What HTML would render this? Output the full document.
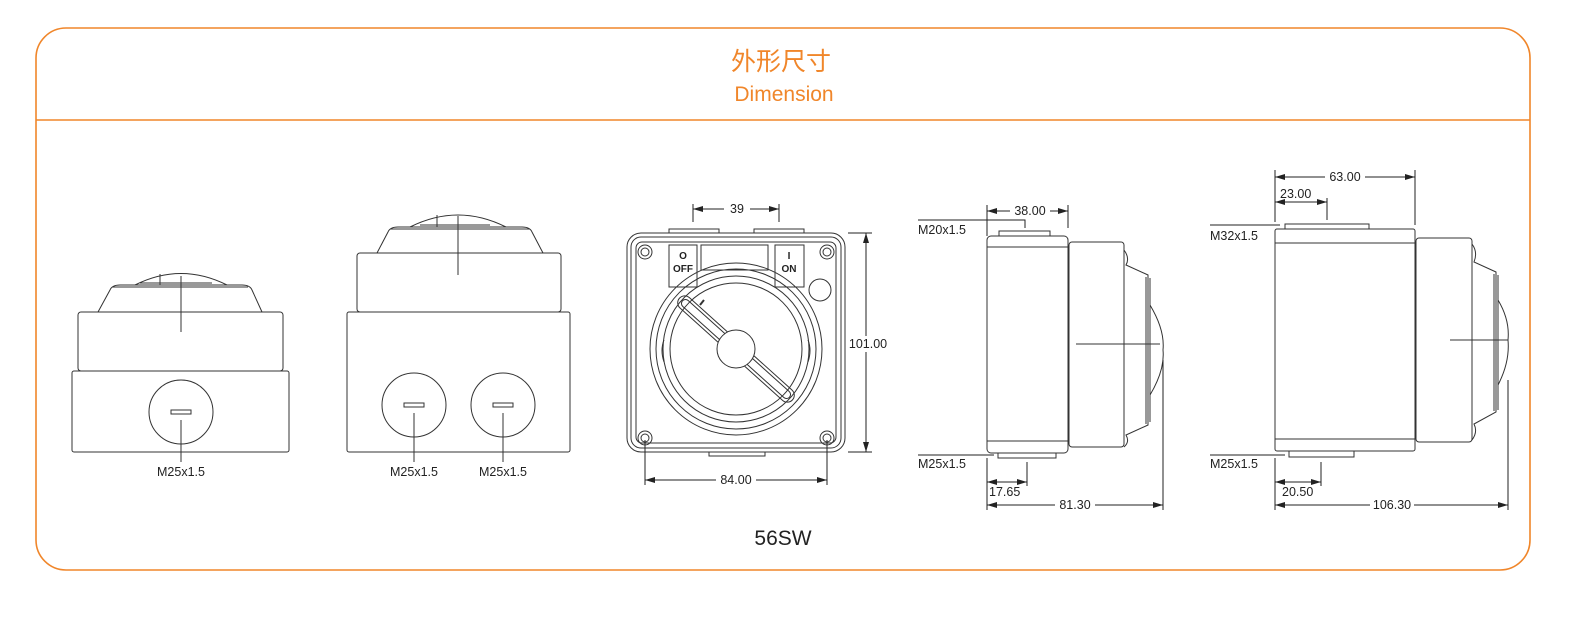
<!DOCTYPE html>
<html><head><meta charset="utf-8"><style>
html,body{margin:0;padding:0;background:#fff;}
svg{display:block;}
text{font-family:"Liberation Sans","Noto Sans CJK SC",sans-serif;fill:#222;}
</style></head><body>
<svg width="1589" height="621" viewBox="0 0 1589 621" xmlns="http://www.w3.org/2000/svg">
<defs>
<marker id="a" viewBox="0 0 10 6" refX="10" refY="3" markerWidth="10" markerHeight="6" orient="auto-start-reverse" markerUnits="userSpaceOnUse"><path d="M0,0L10,3L0,6Z" fill="#222"/></marker>
</defs>
<rect x="36" y="28" width="1494" height="542" rx="30" fill="none" stroke="#f0862a" stroke-width="1.6"/>
<line x1="36" y1="120" x2="1530" y2="120" stroke="#f0862a" stroke-width="1.6"/>
<text x="781" y="70" text-anchor="middle" font-size="25" style="fill:#f0862a">外形尺寸</text>
<text x="784" y="101" text-anchor="middle" font-size="21" style="fill:#f0862a">Dimension</text>
<text x="783" y="545" text-anchor="middle" font-size="21">56SW</text>

<g fill="none" stroke="#333" stroke-width="1">
<!-- View 1 -->
<rect x="72" y="371" width="217" height="81" rx="2"/>
<rect x="78" y="312" width="205" height="59" rx="3"/>
<path d="M98,312 L110,290 Q112,285 120,285 L242,285 Q250,285 252,290 L262,312"/>
<path d="M112,287 L248,287"/>
<path d="M135,285 Q181,262 227,285"/>
<path d="M160,274 L160,285 M140,283 L212,283"/>
<line x1="181" y1="276" x2="181" y2="332"/>
<circle cx="181" cy="412" r="32"/>
<rect x="171" y="410" width="20" height="4"/>
<line x1="181" y1="420" x2="181" y2="462"/>
<!-- View 2 -->
<rect x="347" y="312" width="223" height="140" rx="2"/>
<rect x="357" y="253" width="204" height="59" rx="3"/>
<path d="M377,253 L388,232 Q390,227 398,227 L522,227 Q530,227 532,232 L543,253"/>
<path d="M390,229 L530,229"/>
<path d="M410,227 Q458,203 506,227"/>
<path d="M437,215 L437,227 M420,225 L490,225"/>
<line x1="458" y1="216" x2="458" y2="275"/>
<circle cx="414" cy="405" r="32"/>
<rect x="404" y="403" width="20" height="4"/>
<line x1="414" y1="413" x2="414" y2="462"/>
<circle cx="503" cy="405" r="32"/>
<rect x="493" y="403" width="20" height="4"/>
<line x1="503" y1="413" x2="503" y2="462"/>
<!-- View 3 front -->
<rect x="627" y="233" width="218" height="219" rx="14"/>
<rect x="631" y="237" width="210" height="211" rx="10"/>
<rect x="636" y="242" width="200" height="201" rx="6"/>
<rect x="669" y="229" width="50" height="4"/>
<rect x="754" y="229" width="50" height="4"/>
<rect x="709" y="452" width="56" height="4"/>
<rect x="669" y="245" width="28" height="42"/>
<rect x="701" y="245" width="67" height="25"/>
<rect x="775" y="245" width="29" height="42"/>
<circle cx="645" cy="252" r="7"/><circle cx="645" cy="252" r="4"/>
<circle cx="827" cy="252" r="7"/><circle cx="827" cy="252" r="4"/>
<circle cx="645" cy="438" r="7"/><circle cx="645" cy="438" r="4"/>
<circle cx="827" cy="438" r="7"/><circle cx="827" cy="438" r="4"/>
<circle cx="820" cy="290" r="11"/>
<circle cx="736" cy="349" r="86"/>
<circle cx="736" cy="349" r="80"/>
<circle cx="736" cy="349" r="73"/>
<circle cx="736" cy="349" r="66"/>
<path d="M664,340 Q660,350 664,362 M808,340 Q812,350 808,362"/>
<g transform="rotate(42 736 349)">
<rect x="660" y="342" width="152" height="14" rx="7"/>
<rect x="664" y="345" width="144" height="8" rx="4"/>
</g>
<circle cx="736" cy="349" r="19" fill="#fff"/>
<path d="M700,305 L704,300" stroke-width="2"/>
<!-- View 4 side -->
<rect x="987" y="236" width="81" height="217" rx="4"/>
<line x1="987" y1="247" x2="1068" y2="247"/>
<line x1="987" y1="441" x2="1068" y2="441"/>
<rect x="999" y="231" width="51" height="5"/>
<rect x="998" y="453" width="58" height="5"/>
<rect x="1069" y="242" width="55" height="205" rx="3"/>
<path d="M1124,250 Q1130,258 1126,265 L1148,275 L1148,425 L1126,435 Q1130,442 1124,447"/>
<path d="M1150,278 L1150,422 M1146,277 L1146,424"/>
<path d="M1150,305 Q1165,330 1163,350 Q1165,370 1150,395"/>
<line x1="1076" y1="344" x2="1160" y2="344"/>
<!-- View 5 side -->
<rect x="1275" y="229" width="140" height="222" rx="2"/>
<line x1="1275" y1="243" x2="1415" y2="243"/>
<line x1="1275" y1="439" x2="1415" y2="439"/>
<rect x="1285" y="224" width="84" height="5"/>
<rect x="1289" y="451" width="65" height="6"/>
<rect x="1416" y="238" width="56" height="204" rx="3"/>
<path d="M1472,244 Q1478,252 1474,262 L1496,272 L1496,412 L1474,424 Q1478,432 1472,440"/>
<path d="M1498,275 L1498,410 M1494,274 L1494,411"/>
<path d="M1498,300 Q1510,320 1508,340 Q1510,362 1498,385"/>
<line x1="1450" y1="340" x2="1508" y2="340"/>
</g>

<g stroke="#222" stroke-width="1" fill="none">
<!-- dims view3 -->
<line x1="693" y1="204" x2="693" y2="222"/><line x1="779" y1="204" x2="779" y2="222"/>
<line x1="693" y1="209" x2="779" y2="209" marker-start="url(#a)" marker-end="url(#a)"/>
<line x1="848" y1="233" x2="872" y2="233"/><line x1="848" y1="452" x2="872" y2="452"/>
<line x1="866" y1="233" x2="866" y2="452" marker-start="url(#a)" marker-end="url(#a)"/>
<line x1="645" y1="440" x2="645" y2="485"/><line x1="827" y1="440" x2="827" y2="485"/>
<line x1="645" y1="480" x2="827" y2="480" marker-start="url(#a)" marker-end="url(#a)"/>
<!-- view4 -->
<line x1="987" y1="205" x2="987" y2="236"/><line x1="1068" y1="205" x2="1068" y2="228"/>
<line x1="987" y1="211" x2="1068" y2="211" marker-start="url(#a)" marker-end="url(#a)"/>
<polyline points="918,220 1025,220 1025,228"/>
<polyline points="918,455 994,455"/>
<line x1="987" y1="458" x2="987" y2="510"/>
<line x1="1027" y1="462" x2="1027" y2="486"/>
<line x1="987" y1="482" x2="1027" y2="482" marker-start="url(#a)" marker-end="url(#a)"/>
<line x1="1163" y1="360" x2="1163" y2="510"/>
<line x1="987" y1="505" x2="1163" y2="505" marker-start="url(#a)" marker-end="url(#a)"/>
<!-- view5 -->
<line x1="1275" y1="170" x2="1275" y2="222"/><line x1="1415" y1="170" x2="1415" y2="225"/>
<line x1="1275" y1="177" x2="1415" y2="177" marker-start="url(#a)" marker-end="url(#a)"/>
<line x1="1327" y1="198" x2="1327" y2="220"/>
<line x1="1275" y1="202" x2="1327" y2="202" marker-start="url(#a)" marker-end="url(#a)"/>
<polyline points="1210,225 1280,225"/>
<polyline points="1210,455 1285,455"/>
<line x1="1275" y1="458" x2="1275" y2="510"/>
<line x1="1321" y1="462" x2="1321" y2="486"/>
<line x1="1275" y1="482" x2="1321" y2="482" marker-start="url(#a)" marker-end="url(#a)"/>
<line x1="1508" y1="380" x2="1508" y2="510"/>
<line x1="1275" y1="505" x2="1508" y2="505" marker-start="url(#a)" marker-end="url(#a)"/>
</g>

<g font-size="12.5">
<text x="181" y="476" text-anchor="middle">M25x1.5</text>
<text x="414" y="476" text-anchor="middle">M25x1.5</text>
<text x="503" y="476" text-anchor="middle">M25x1.5</text>
<rect x="724" y="201" width="26" height="14" fill="#fff"/>
<text x="737" y="213" text-anchor="middle">39</text>
<rect x="848" y="336" width="40" height="16" fill="#fff"/>
<text x="868" y="348" text-anchor="middle">101.00</text>
<rect x="716" y="472" width="40" height="14" fill="#fff"/>
<text x="736" y="484" text-anchor="middle">84.00</text>
<rect x="1010" y="203" width="40" height="14" fill="#fff"/>
<text x="1030" y="215" text-anchor="middle">38.00</text>
<text x="918" y="234">M20x1.5</text>
<text x="918" y="468">M25x1.5</text>
<text x="989" y="496">17.65</text>
<rect x="1055" y="497" width="40" height="14" fill="#fff"/>
<text x="1075" y="509" text-anchor="middle">81.30</text>
<rect x="1325" y="169" width="40" height="14" fill="#fff"/>
<text x="1345" y="181" text-anchor="middle">63.00</text>
<text x="1280" y="198">23.00</text>
<text x="1210" y="240">M32x1.5</text>
<text x="1210" y="468">M25x1.5</text>
<text x="1282" y="496">20.50</text>
<rect x="1370" y="497" width="44" height="14" fill="#fff"/>
<text x="1392" y="509" text-anchor="middle">106.30</text>
</g>
<g font-size="10" font-weight="bold" text-anchor="middle">
<text x="683" y="259">O</text>
<text x="683" y="272">OFF</text>
<text x="789" y="259">I</text>
<text x="789" y="272">ON</text>
</g>
</svg>
</body></html>
